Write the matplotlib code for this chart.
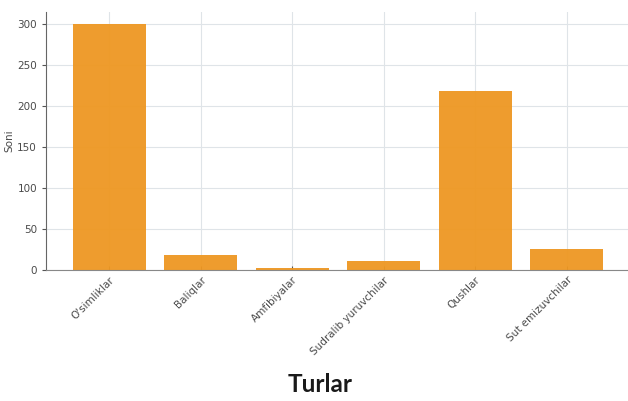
import matplotlib
matplotlib.use("Agg")
import matplotlib.pyplot as plt

categories = ["O'simliklar", "Baliqlar", "Amfibiyalar", "Sudralib yuruvchilar", "Qushlar", "Sut emizuvchilar"]
counts = [300, 18, 2, 11, 218, 26]
yticks = [0, 50, 100, 150, 200, 250, 300]

fig = plt.figure(figsize=(6.28, 4.01), dpi=100)
ax = fig.add_axes([46 / 628, 1 - 270 / 401, 584 / 628, 258 / 401])

ax.set_axisbelow(True)
ax.grid(True, color="#dfe4e8", linewidth=0.8)
ax.bar(range(len(categories)), counts, width=0.8, color="#ee9722", alpha=0.95)

ax.set_yticks(yticks)
ax.set_xticks(range(len(categories)))
ax.set_xticklabels(categories, rotation=45, ha="right", rotation_mode="anchor",
                   fontsize=7.5, color="#4a4a4a")
ax.tick_params(axis="y", labelsize=7.5, labelcolor="#4a4a4a", length=3, color="#555555")
ax.tick_params(axis="x", direction="in", length=3, color="#555555")
ax.set_ylabel("Soni", fontsize=7.5, color="#4a4a4a", labelpad=2)

for side in ("top", "right"):
    ax.spines[side].set_visible(False)
ax.spines["left"].set_color("#666666")
ax.spines["bottom"].set_color("#888888")

fig.text(320 / 628, 1 - 392 / 401, "Turlar", ha="center", va="baseline",
         fontsize=17.5, fontweight="bold", family="Lato", color="#1a1a1a")

fig.savefig("out.png", dpi=100)
